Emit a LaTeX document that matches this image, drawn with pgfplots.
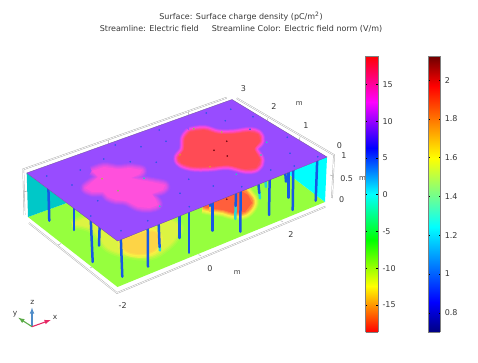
\documentclass[border=0pt]{standalone}
\usepackage{fontspec}
\setmainfont{DejaVu Sans}
\usepackage{pgfplots}
\pgfplotsset{compat=1.18}
\definecolor{base}{RGB}{152,76,255}
\definecolor{txt}{RGB}{55,55,55}
\definecolor{fr}{RGB}{175,175,175}
\definecolor{sl}{RGB}{22,88,228}
\definecolor{tip}{RGB}{40,215,215}
\definecolor{dblue}{RGB}{50,85,235}
\definecolor{dteal}{RGB}{40,200,190}
\definecolor{dgreen}{RGB}{135,195,85}
\definecolor{dolive}{RGB}{175,185,70}
\definecolor{dorange}{RGB}{225,150,45}
\definecolor{dred}{RGB}{120,10,20}
\definecolor{pinkc}{RGB}{255,80,220}
\definecolor{redc}{RGB}{255,75,85}
\definecolor{ringc}{RGB}{255,72,225}
\definecolor{grn}{RGB}{150,255,62}
\definecolor{yel}{RGB}{250,240,68}
\definecolor{ora}{RGB}{255,170,60}
\definecolor{orr}{RGB}{255,95,60}
\definecolor{pale}{RGB}{253,212,70}
\pgfplotstableread{
x y
92 171
104 167
118 169
130 168
142 170
140 174
131 178
140 180
152 182
165 185
163 190
152 194
156 200
158 205
150 208
138 207
126 201
116 200
108 197
103 192
92 192
85 188
92 182
98 177
92 171
}\pinkblob
\pgfplotstableread{
x y
190 132
204 130
218 134
234 134
249 132
258 134.3
260 141
254 149
260 160
256 167.7
245 169
228 165
210 166.7
193.3 166.7
181.7 163.3
178.3 158
184 150
185 138.3
190 132
}\redblob
\pgfplotstableread{
x y
203 207
213 209
223 210
233 213
245 212
252 203
248 195
240 190
210 190
203 207
}\floorred
\pgfplotstableread{
x y
125 238
135 236
150 232
158 236
156 248
145 253
130 252
122 245
125 238
}\floororange
\pgfplotstableread{
x y
72 224
90 228
100 238
108 248
125 254
150 256
165 248
175 238
178 225
150 215
100 215
72 224
}\flooryellow
\begin{document}
\begin{tikzpicture}[font=\fontsize{8pt}{10pt}\selectfont]
\path[use as bounding box] (0,0) rectangle (478pt,363pt);
\begin{axis}[at={(0pt,0pt)},anchor=south west,width=478pt,height=363pt,scale only axis,
  hide axis,xmin=0,xmax=478,ymin=0,ymax=363,y dir=reverse,clip=false,
  fw/.style={draw=fr,line width=.45pt,double=white,double distance=.7pt},
  tk/.style={draw=fr,line width=.5pt},
  sl/.style={draw=sl,line width=2.5pt,line cap=round},
  tp/.style={draw=tip,line width=2.5pt,line cap=round},
  dm/.style={only marks,mark=*,mark size=.6pt,color=#1},
  blob/.style n args={2}{smooth,tension=.6,draw={#1},fill={#1},line width=#2,line join=round}]
% frame
\addplot[fw] coordinates {(24.5,215)(23.3,169.3)(226.7,97.7)};
\addplot[fw] coordinates {(236.7,98.3)(334,155)(332,198)};
\addplot[fw] coordinates {(29,223)(117,293)(325.3,206.7)};
\addplot[tk] coordinates {(108.3,140)(108.8,144)};
\addplot[tk] coordinates {(188.3,111.7)(188.8,115.7)};
\addplot[tk] coordinates {(267.7,118.3)(267,122)};
\addplot[tk] coordinates {(300,136.7)(299.3,140.5)};
\addplot[tk] coordinates {(58.3,245)(61,243.5)};
\addplot[tk] coordinates {(90,268)(93,266.5)};
\addplot[tk] coordinates {(201,256)(198.5,254.5)};
\addplot[tk] coordinates {(283,222)(280.5,220.5)};
\addplot[tk] coordinates {(24,192)(27,191)};
\addplot[tk] coordinates {(333,176)(330,175)};
% floor
\addplot[draw=none,fill=grn] coordinates {(28,217)(117.5,287)(325,202)(287,173)(66.7,203)(28,217)};
\addplot[blob={yel!15!grn}{9pt}] table {\flooryellow};
\addplot[blob={yel!35!grn}{6pt}] table {\flooryellow};
\addplot[blob={yel!55!grn}{3pt}] table {\flooryellow};
\addplot[blob={yel!70!grn}{.5pt}] table {\flooryellow};
\addplot[blob={yel!85!grn}{9pt}] table {\floororange};
\addplot[blob={yel}{6pt}] table {\floororange};
\addplot[blob={pale!60!yel}{3.5pt}] table {\floororange};
\addplot[blob={pale}{1pt}] table {\floororange};
\addplot[blob={yel!20!grn}{14pt}] table {\floorred};
\addplot[blob={yel!50!grn}{12pt}] table {\floorred};
\addplot[blob={yel!80!grn}{10pt}] table {\floorred};
\addplot[blob={yel}{8pt}] table {\floorred};
\addplot[blob={ora!50!yel}{6pt}] table {\floorred};
\addplot[blob={ora}{4pt}] table {\floorred};
\addplot[blob={orr!50!ora}{2pt}] table {\floorred};
\addplot[draw=none,fill=orr] table {\floorred};
% walls
\addplot[draw=none,fill={rgb,255:red,0;green,200;blue,200}] coordinates {(26.7,173)(28,217)(66.7,203)(26.7,173)};
\addplot[draw=none,fill={rgb,255:red,0;green,255;blue,255}] coordinates {(327,157)(325,202)(287,173)(327,157)};
% streamlines
\addplot[sl] coordinates {(48.3,185)(49.3,220.7)};
\addplot[sl] coordinates {(74,205)(74,230)};
\addplot[sl] coordinates {(90.7,218)(92.7,262)};
\addplot[sl] coordinates {(99.7,224)(99,245.7)};
\addplot[sl] coordinates {(120.7,235)(122.3,276.7)};
\addplot[sl] coordinates {(147.7,224)(148,266.7)};
\addplot[tp] coordinates {(159.6,246)(160,250.5)};
\addplot[sl] coordinates {(158.5,220)(159.6,247)};
\addplot[sl] coordinates {(179.7,211)(179.7,238)};
\addplot[sl] coordinates {(189,207)(189,252.7)};
\addplot[sl] coordinates {(212.7,198)(212.7,230.7)};
\addplot[draw={rgb,255:red,250;green,200;blue,60},line width=1.5pt] coordinates {(210,206)(210,212)};
\addplot[sl] coordinates {(210,200)(210,206)};
\addplot[tp] coordinates {(235.7,205)(235.3,219)};
\addplot[sl] coordinates {(235.9,188)(235.7,206)};
\addplot[sl] coordinates {(240.7,188)(240.3,231.7)};
\addplot[tp] coordinates {(259.3,192)(260,198.3)};
\addplot[sl] coordinates {(258,180)(259.3,193)};
\addplot[tp] coordinates {(265.3,180)(266,187)};
\addplot[sl] coordinates {(269.7,177)(269,215)};
\addplot[sl] coordinates {(285,170)(286,181.7)};
\addplot[sl] coordinates {(288.3,167)(288.3,197.7)};
\addplot[sl] coordinates {(293.3,167)(292.7,210)};
\addplot[sl] coordinates {(317.3,157)(315.7,200.7)};
\addplot[dm=dred] coordinates {(226.7,199.3)};
% top plate
\addplot[fill=base,draw={rgb,255:red,110;green,80;blue,150},line width=.3pt] coordinates {(26.7,173)(117.5,241)(327,157)(232,99.5)(26.7,173)};
% pink blob
\addplot[blob={pinkc!12!base}{10pt}] table {\pinkblob};
\addplot[blob={pinkc!30!base}{8pt}] table {\pinkblob};
\addplot[blob={pinkc!48!base}{6pt}] table {\pinkblob};
\addplot[blob={pinkc!65!base}{4pt}] table {\pinkblob};
\addplot[blob={pinkc!82!base}{2pt}] table {\pinkblob};
\addplot[draw=none,fill=pinkc] table {\pinkblob};
% red blob
\addplot[blob={ringc!15!base}{11pt}] table {\redblob};
\addplot[blob={ringc!45!base}{9.5pt}] table {\redblob};
\addplot[blob={ringc!75!base}{8pt}] table {\redblob};
\addplot[blob={ringc}{6.5pt}] table {\redblob};
\addplot[blob={redc!30!ringc}{5pt}] table {\redblob};
\addplot[blob={redc!60!ringc}{3pt}] table {\redblob};
\addplot[blob={redc!85!ringc}{1.2pt}] table {\redblob};
\addplot[draw=none,fill=redc] table {\redblob};
% dots
\addplot[dm=dblue] coordinates {(46.7,176)(72,185)(80.3,170)(97.7,200.7)(90.7,216)(121,230.7)(147.7,220.7)(189.3,206.7)(180,193.3)(103.7,159)(130.3,161.7)(156.3,162.3)(141,146.7)(115.3,145)(166,141.3)(159.3,130)(188.7,179.3)(213.3,186)(206.3,113)(230.7,109.3)(225.3,120.7)(253,116.7)(250,129.3)(270.7,170)(241.7,186.7)(287.3,137.3)(290,153.3)(294.3,166)(317.7,156.7)};
\addplot[dm=dteal] coordinates {(159.7,206.3)(144,178.3)(266.7,142.3)(261,155)(236.3,174.3)};
\addplot[dm=dgreen] coordinates {(118,190.7)(193.7,128.7)};
\addplot[dm=dolive] coordinates {(102,178.7)(221.7,132)};
\addplot[dm=dorange] coordinates {(210,166.7)(180,154.7)};
\addplot[dm=dred] coordinates {(226.7,141.3)(214,150.3)(227.3,156)};
% triad
\addplot[draw={rgb,255:red,80;green,140;blue,200},line width=1.1pt,-{latex}] coordinates {(32,326.7)(32,307.5)};
\addplot[draw={rgb,255:red,90;green,170;blue,70},line width=1.1pt,-{latex}] coordinates {(32,326.7)(18.3,317.7)};
\addplot[draw={rgb,255:red,230;green,40;blue,100},line width=1.1pt,-{latex}] coordinates {(32,326.7)(50.7,320)};
% texts
\node[text=txt] at (axis cs:241,17) {Surface: Surface charge density (pC/m\textsuperscript{2})};
\node[text=txt] at (axis cs:241,28.5) {Streamline: Electric field\hspace{13pt}Streamline Color: Electric field norm (V/m)};
\node[text=txt] at (axis cs:122.7,305.7) {-2};
\node[text=txt] at (axis cs:210,269) {0};
\node[text=txt] at (axis cs:237.3,272.5) {\fontsize{7pt}{8pt}\selectfont m};
\node[text=txt] at (axis cs:291,235) {2};
\node[text=txt] at (axis cs:243.3,88.3) {3};
\node[text=txt] at (axis cs:274,106.7) {2};
\node[text=txt] at (axis cs:306,125.7) {1};
\node[text=txt] at (axis cs:339.3,145.7) {0};
\node[text=txt] at (axis cs:299.3,103.5) {\fontsize{7pt}{8pt}\selectfont m};
\node[text=txt] at (axis cs:344,156) {1};
\node[text=txt] at (axis cs:346.7,178.3) {0.5};
\node[text=txt] at (axis cs:341.7,200) {0};
\node[text=txt] at (axis cs:362.5,179) {\fontsize{7pt}{8pt}\selectfont m};
\node[text=txt] at (axis cs:32.3,302) {\fontsize{7.5pt}{8pt}\selectfont z};
\node[text=txt] at (axis cs:15,314.3) {\fontsize{7.5pt}{8pt}\selectfont y};
\node[text=txt] at (axis cs:55,317.7) {\fontsize{7.5pt}{8pt}\selectfont x};
\end{axis}
% colour bars
\pgfplotsset{bar/.style={scale only axis,anchor=south west,width=12.3pt,height=276.3pt,
  view={0}{90},xmin=0,xmax=1,xtick=\empty,axis on top,axis line style={draw=gray,line width=.5pt},
  ytick pos=both,yticklabel pos=right,major tick length=1.6pt,
  y tick style={draw=black,line width=.4pt},
  yticklabel style={text=txt,font=\fontsize{8pt}{10pt}\selectfont,xshift=1pt}}}
\begin{axis}[bar,at={(365.7pt,30.7pt)},ymin=-18.7,ymax=18.85,
  ytick={-15,-10,-5,0,5,10,15},yticklabels={-15,-10,-5,0,5,10,15},
  colormap={cyc}{rgb255(0pt)=(255,0,0);rgb255(1pt)=(255,255,0);rgb255(2pt)=(0,255,0);rgb255(3pt)=(0,255,255);rgb255(4pt)=(0,0,255);rgb255(5pt)=(255,0,255);rgb255(6pt)=(255,0,0)},
  point meta min=-18.7,point meta max=18.85]
\addplot3[surf,shader=interp,point meta=y] coordinates {
(0,-18.7,0)(1,-18.7,0)

(0,-12.44,0)(1,-12.44,0)

(0,-6.18,0)(1,-6.18,0)

(0,0.08,0)(1,0.08,0)

(0,6.33,0)(1,6.33,0)

(0,12.59,0)(1,12.59,0)

(0,18.85,0)(1,18.85,0)
};
\end{axis}
\begin{axis}[bar,at={(428pt,30.7pt)},ymin=0.699,ymax=2.124,
  ytick={0.8,1,1.2,1.4,1.6,1.8,2},yticklabels={0.8,1,1.2,1.4,1.6,1.8,2},
  colormap={rb}{rgb255(0pt)=(0,0,130);rgb255(11pt)=(0,0,255);rgb255(38pt)=(0,255,255);rgb255(63pt)=(255,255,0);rgb255(89pt)=(255,0,0);rgb255(100pt)=(110,0,0)},
  point meta min=0.699,point meta max=2.124]
\addplot3[surf,shader=interp,point meta=y] coordinates {
(0,0.699,0)(1,0.699,0)

(0,0.856,0)(1,0.856,0)

(0,1.2405,0)(1,1.2405,0)

(0,1.597,0)(1,1.597,0)

(0,1.967,0)(1,1.967,0)

(0,2.124,0)(1,2.124,0)
};
\end{axis}
\end{tikzpicture}
\end{document}
